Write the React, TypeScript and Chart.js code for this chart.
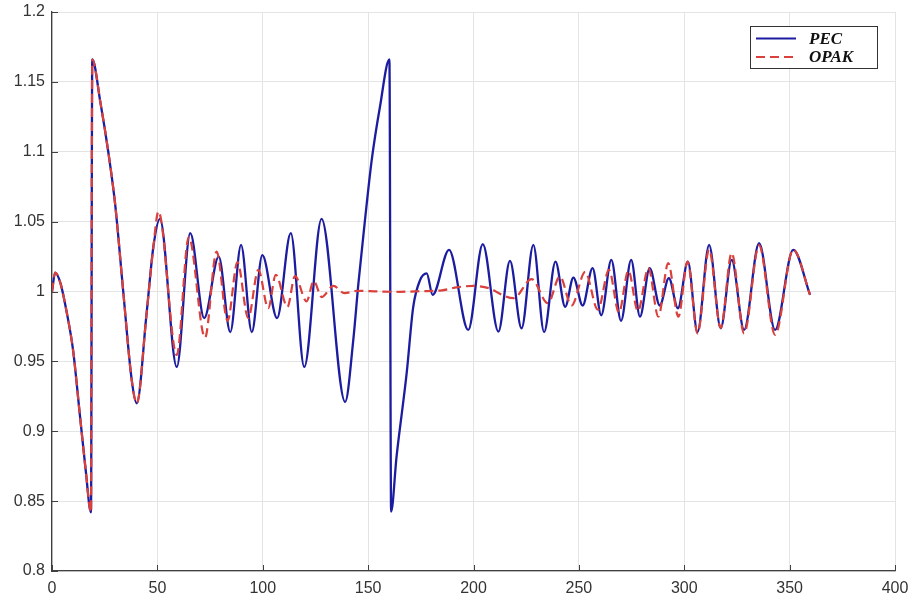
import { useEffect, useRef } from "react";
import { Chart, registerables } from "chart.js";
Chart.register(...registerables);

const seriesLabels = ["PEC", "OPAK"];

const pecX = [
  0, 1.5, 4, 7, 10, 13, 16, 18.5, 19.1, 23, 26.7, 30, 33.8, 37.8, 40.2, 44.9, 48.1, 51.2,
  59.2, 65.6, 72.2, 79.1, 84.6, 89.7, 94.8, 99.8, 106.8, 113.3, 119.7, 127.9,
  139.1, 143, 145.4, 148.5, 151.7, 155.6, 160.1, 160.9, 163.5, 168.3, 171.4, 174.6, 177.8, 180.6,
  188.4, 197.5, 204.4, 211.8, 217.3, 222.8, 228.4, 233.5, 238.9, 243.5, 247.4, 251.8, 256.5,
  260.6, 265.4, 270, 274.8, 279, 283.6, 288.4, 292.7, 297, 301.7, 306.3, 311.8, 317.3, 322.5,
  328.4, 335.5, 343.1, 351.7, 359.7,
];
const pecY = [
  1.0, 1.0135, 1.006, 0.985, 0.958, 0.915, 0.872, 0.842, 1.166, 1.135, 1.1, 1.062, 1.0, 0.937, 0.92, 0.9845, 1.032, 1.052,
  0.946, 1.0417, 0.981, 1.025, 0.971, 1.0333, 0.971, 1.026, 0.981, 1.0417, 0.946, 1.052,
  0.921, 0.966, 1.006, 1.051, 1.094, 1.132, 1.166, 0.8425, 0.882, 0.9417, 0.989, 1.008, 1.013, 0.9976,
  1.0298, 0.9725, 1.0339, 0.9713, 1.0219, 0.9737, 1.0333, 0.971, 1.0214, 0.989, 1.01, 0.99, 1.0167,
  0.983, 1.0226, 0.979, 1.0226, 0.982, 1.0167, 0.99, 1.0095, 0.988, 1.0214, 0.971, 1.0334, 0.9737, 1.0226,
  0.9725, 1.0346, 0.9725, 1.0298, 0.9976,
];

const opakX = [
  0, 1.5, 4, 7, 10, 13, 16, 18.5, 19.1, 23, 26.7, 30, 33.8, 37.8, 40.2, 44.9, 48.1, 50.5,
  59.2, 64.9, 72.6, 78.1, 83.3, 88, 93.1, 97.9, 102.6, 106.2, 111.7, 115.3, 120.8, 124.2, 128, 133.5, 138.8,
  145, 155, 165, 175, 185, 192, 200, 208, 213, 219, 227.6, 235.3, 241, 246.5, 253, 259, 264.3, 269,
  273.5, 278, 283, 287.7, 292.4, 297.2, 301.6, 306.3, 311.8, 317.3, 322.5, 328.4, 335.5, 343.1, 351.7, 359.7,
];
const opakY = [
  1.0, 1.0135, 1.006, 0.985, 0.958, 0.915, 0.872, 0.842, 1.166, 1.135, 1.1, 1.062, 1.0, 0.937, 0.92, 0.9845, 1.032, 1.0572,
  0.9546, 1.039, 0.967, 1.0286, 0.979, 1.021, 0.981, 1.0155, 0.988, 1.012, 0.989, 1.011, 0.993, 1.0075, 0.996, 1.004, 0.9988,
  1.0005, 1.0, 0.9998, 1.0002, 1.0008, 1.003, 1.004, 1.002, 0.998, 0.9952, 1.0088, 0.9916, 1.0107, 0.99, 1.014, 0.987, 1.0155, 0.985,
  1.015, 0.986, 1.0167, 0.982, 1.0203, 0.982, 1.0214, 0.97, 1.03, 0.974, 1.0275, 0.97, 1.033, 0.969, 1.03, 0.9976,
];

const xMin = 0, xMax = 400, xStep = 50;
const yMin = 0.8, yMax = 1.2, yStep = 0.05;

const BLUE = "rgb(28,28,160)";
const RED = "rgb(218,64,60)";
const AXIS = "#404040";
const GRID = "#e4e4e4";
const TICK_TEXT = "#333333";

const innerTicks = {
  id: "innerTicks",
  beforeDatasetsDraw(chart: any) {
    const { ctx, chartArea, scales } = chart;
    ctx.save();
    ctx.strokeStyle = AXIS;
    ctx.lineWidth = 1;
    scales.x.ticks.forEach((t: any) => {
      const px = Math.round(scales.x.getPixelForValue(t.value)) + 0.5;
      ctx.beginPath();
      ctx.moveTo(px, chartArea.bottom);
      ctx.lineTo(px, chartArea.bottom - 6);
      ctx.stroke();
    });
    scales.y.ticks.forEach((t: any) => {
      const py = Math.round(scales.y.getPixelForValue(t.value)) + 0.5;
      ctx.beginPath();
      ctx.moveTo(chartArea.left, py);
      ctx.lineTo(chartArea.left + 6, py);
      ctx.stroke();
    });
    ctx.restore();
  },
};

const boxLegend = {
  id: "boxLegend",
  afterDraw(chart: any) {
    const { ctx } = chart;
    const x0 = 750.5, y0 = 26.5, w = 127, h = 42;
    ctx.save();
    ctx.fillStyle = "#fff";
    ctx.fillRect(x0, y0, w, h);
    ctx.strokeStyle = "#333";
    ctx.lineWidth = 1;
    ctx.strokeRect(x0, y0, w, h);
    const ds = chart.data.datasets;
    const rows = [38.5, 57];
    ds.forEach((d: any, i: number) => {
      ctx.beginPath();
      ctx.strokeStyle = d.borderColor;
      ctx.lineWidth = 2.2;
      ctx.setLineDash(d.borderDash || []);
      ctx.moveTo(756, rows[i]);
      ctx.lineTo(796, rows[i]);
      ctx.stroke();
      ctx.setLineDash([]);
      ctx.fillStyle = "#111";
      ctx.font = "italic bold 17px 'Liberation Serif', serif";
      ctx.textBaseline = "middle";
      ctx.textAlign = "left";
      ctx.fillText(d.label, 809, rows[i] + 1);
    });
    ctx.restore();
  },
};

export default function App() {
  const ref = useRef<HTMLCanvasElement>(null);
  useEffect(() => {
    const canvas = ref.current;
    if (!canvas) return;
    const tickFont = { family: "'Liberation Sans', Arial, sans-serif", size: 16 };
    const chart = new Chart(canvas, {
      type: "line",
      data: {
        datasets: [
          {
            label: seriesLabels[0],
            data: pecX.map((x, i) => ({ x, y: pecY[i] })),
            borderColor: BLUE,
            borderWidth: 2.3,
            cubicInterpolationMode: "monotone",
            pointRadius: 0,
            fill: false,
            order: 2,
          },
          {
            label: seriesLabels[1],
            data: opakX.map((x, i) => ({ x, y: opakY[i] })),
            borderColor: RED,
            borderWidth: 2.2,
            borderDash: [9, 5],
            cubicInterpolationMode: "monotone",
            pointRadius: 0,
            fill: false,
            order: 1,
          },
        ],
      },
      options: {
        animation: false,
        responsive: false,
        devicePixelRatio: 1,
        layout: { padding: { top: 12, right: 17, left: 0, bottom: 0 } },
        plugins: { legend: { display: false }, tooltip: { enabled: false } },
        scales: {
          x: {
            type: "linear",
            min: xMin,
            max: xMax,
            afterFit: (s: any) => {
              s.height = 30;
              s.paddingLeft = 0;
              s.paddingRight = 0;
            },
            ticks: { stepSize: xStep, padding: 8, color: TICK_TEXT, font: tickFont, maxRotation: 0 },
            grid: { color: GRID, drawTicks: false, lineWidth: 1 },
            border: { display: true, color: AXIS, width: 1.3 },
          },
          y: {
            type: "linear",
            min: yMin,
            max: yMax,
            afterFit: (s: any) => {
              s.width = 52;
              s.paddingTop = 0;
              s.paddingBottom = 0;
            },
            ticks: {
              stepSize: yStep,
              padding: 7,
              color: TICK_TEXT,
              font: tickFont,
              callback: (v: any) => String(+Number(v).toFixed(2)),
            },
            grid: { color: GRID, drawTicks: false, lineWidth: 1 },
            border: { display: true, color: AXIS, width: 1.3 },
          },
        },
      },
      plugins: [innerTicks, boxLegend],
    });
    return () => chart.destroy();
  }, []);
  return (
    <div style={{ position: "fixed", left: 0, top: 0, width: 912, height: 601, background: "#fff" }}>
      <canvas ref={ref} width={912} height={601} style={{ display: "block" }} />
    </div>
  );
}
